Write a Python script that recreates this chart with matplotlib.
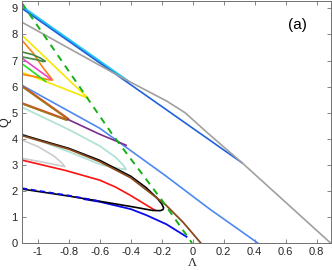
import numpy as np
import matplotlib
matplotlib.use("Agg")
import matplotlib.pyplot as plt

plt.rcParams['font.family'] = ['Liberation Sans', 'DejaVu Sans']

# curves: (Lambda, Q)
grey_l = [-1.103, -0.8, -0.45, -0.17, -0.05, 0.1, 0.32, 0.89]
grey_q = [8.47, 7.47, 6.32, 5.45, 5.0, 4.2, 3.07, 0.0]

blue_top_l = [-1.103, 0.32]
blue_top_q = [9.0, 3.07]
cyan_l = [-1.103, -0.42]
cyan_q = [9.07, 6.22]

dash_l = [-1.103, -0.516, -0.2, -0.005]
dash_q = [9.2, 4.14, 1.65, 0.0]

yellow_l = [-1.103, -0.9, -0.677, -0.9, -1.103]
yellow_q = [7.97, 6.82, 5.56, 6.08, 6.55]

orange_l = [-1.103, -1.03, -0.97, -0.92, -0.905, -0.93, -1.0, -1.103]
orange_q = [7.78, 7.28, 6.75, 6.37, 6.25, 6.26, 6.36, 6.47]

dgreen_l = [-1.103, -1.03, -0.98, -0.952, -0.965, -1.0, -1.103]
dgreen_q = [7.33, 7.22, 7.08, 6.97, 6.96, 7.02, 7.14]

magenta_l = [-1.103, -0.92]
magenta_q = [7.09, 6.3]
lime_l = [-1.103, -0.95]
lime_q = [6.88, 6.2]

sienna_l = [-1.103, -0.83, -0.805, -0.815, -1.103]
sienna_q = [6.02, 4.87, 4.76, 4.73, 5.36]

purple_l = [-0.806, -0.6, -0.43]
purple_q = [4.74, 4.17, 3.75]

b2_l = [-1.103, -0.6, -0.18, 0.11, 0.42]
b2_q = [6.05, 4.4, 2.6, 1.3, 0.0]

teal_l = [-1.103, -0.8, -0.6, -0.5, -0.45, -0.43, -0.5, -0.6, -0.8, -1.103]
teal_q = [5.21, 4.35, 3.72, 3.3, 3.0, 2.82, 2.88, 3.02, 3.5, 4.18]

lgrey_l = [-1.103, -1.0, -0.9, -0.85, -0.826, -0.95, -1.103]
lgrey_q = [3.95, 3.7, 3.35, 3.1, 2.93, 3.08, 3.25]

red_l = [-1.103, -0.82, -0.6, -0.5, -0.406, -0.245]
red_q = [3.18, 2.78, 2.41, 2.15, 1.84, 1.26]

brown_l = [-1.103, -0.8, -0.6, -0.4, -0.28, -0.174, -0.06, 0.052]
brown_q = [4.12, 3.6, 3.12, 2.5, 1.95, 1.46, 0.78, 0.0]

black_l = [-1.103, -0.8, -0.6, -0.4, -0.3, -0.23, -0.2, -0.188,
           -0.192, -0.21, -0.26, -0.39, -0.6, -0.8, -1.103]
black_q = [4.15, 3.63, 3.17, 2.56, 2.12, 1.72, 1.5, 1.35,
           1.28, 1.24, 1.25, 1.39, 1.6, 1.8, 2.07]

dblue_l = [-0.7, -0.6, -0.4, -0.3, -0.17, -0.04]
dblue_q = [1.68, 1.58, 1.3, 1.07, 0.72, 0.24]
dblue_dash_l = [-1.103, -0.8, -0.6]
dblue_dash_q = [2.1, 1.82, 1.6]

xticks = [-1, -0.8, -0.6, -0.4, -0.2, 0, 0.2, 0.4, 0.6, 0.8]
xticklabels = ['-1', '-0.8', '-0.6', '-0.4', '-0.2', '0', '0.2', '0.4', '0.6', '0.8']

fig = plt.figure(figsize=(3.32, 2.70), dpi=100)
ax = fig.add_axes([0.066, 0.1, 0.931, 0.898])

ax.plot(cyan_l, cyan_q, color='#22c8f0', lw=1.6)
ax.plot(blue_top_l, blue_top_q, color='#1f62dc', lw=1.2)
ax.plot(grey_l, grey_q, color='#a0a0a0', lw=1.2)
ax.plot(b2_l, b2_q, color='#4d88f2', lw=1.2)
ax.plot(yellow_l, yellow_q, color='#f5e800', lw=1.2)
ax.plot(orange_l, orange_q, color='#ff8010', lw=1.2)
ax.plot(dgreen_l, dgreen_q, color='#3e8a3e', lw=1.2)
ax.plot(magenta_l, magenta_q, color='#e844c8', lw=1.2)
ax.plot(lime_l, lime_q, color='#22e022', lw=1.2)
ax.plot(sienna_l, sienna_q, color='#cc5520', lw=1.7)
ax.plot(sienna_l, np.array(sienna_q) - 0.03, color='#8a8a20', lw=0.6)
ax.plot(purple_l, purple_q, color='#7b2d8e', lw=1.2)
ax.plot(teal_l, teal_q, color='#b2e2d6', lw=1.3)
ax.plot(lgrey_l, lgrey_q, color='#cccccc', lw=1.2)
ax.plot(red_l, red_q, color='#ff1010', lw=1.2)
ax.plot(dblue_l, dblue_q, color='#0a0aee', lw=1.3)
ax.plot(black_l, black_q, color='black', lw=1.2)
ax.plot(brown_l, brown_q, color='#8b4a1e', lw=1.3)
ax.plot(dblue_dash_l, dblue_dash_q, color='#0a0aee', lw=1.3, ls=(0, (3, 2)))
ax.plot(dash_l, dash_q, color='#14b014', lw=1.4, ls=(0, (3.5, 3)))

ax.set_xlim(-1.103, 0.893)
ax.set_ylim(0, 9.3)
ax.set_xticks(xticks)
ax.set_xticklabels(xticklabels)
ax.set_yticks(range(10))
ax.tick_params(direction='in', top=True, right=True, length=3, width=0.6,
               colors='#707070', labelcolor='#262626', labelsize=8, pad=3)
for s in ax.spines.values():
    s.set_color('#707070')
    s.set_linewidth(0.7)

ax.set_xlabel('Λ', family='Liberation Serif', fontsize=9, color='#262626')
ax.xaxis.set_label_coords(0.553, -0.056)
ax.set_ylabel('Q', fontsize=9, color='#262626')
ax.yaxis.set_label_coords(-0.034, 0.5)
ax.text(0.89, 0.9, '(a)', transform=ax.transAxes, ha='center', va='center',
        fontsize=11, color='black')

fig.savefig('out.png', dpi=100)
